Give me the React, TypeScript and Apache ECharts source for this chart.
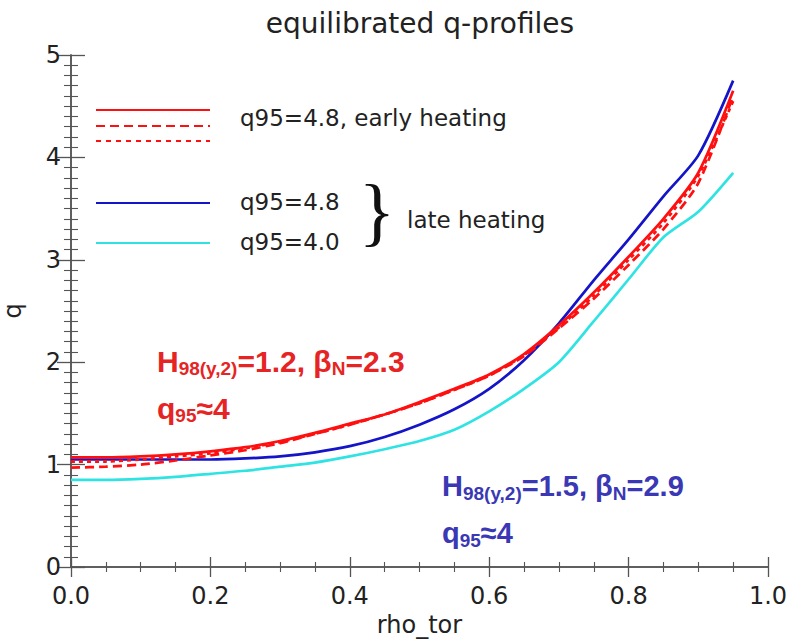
import React, { useEffect, useRef } from 'react';
import * as echarts from 'echarts';

const rho = [0, 0.05, 0.1, 0.15, 0.2, 0.25, 0.3, 0.35, 0.4, 0.45, 0.5, 0.55, 0.6, 0.65, 0.7, 0.75, 0.8, 0.85, 0.9, 0.95];
const earlySolid = [1.07, 1.07, 1.08, 1.10, 1.13, 1.17, 1.23, 1.31, 1.40, 1.49, 1.61, 1.74, 1.88, 2.08, 2.36, 2.68, 3.03, 3.40, 3.85, 4.65];
const earlyDashed = [0.97, 0.98, 1.00, 1.04, 1.09, 1.14, 1.21, 1.30, 1.39, 1.49, 1.60, 1.73, 1.87, 2.06, 2.33, 2.62, 2.95, 3.30, 3.75, 4.60];
const earlyDotted = [1.03, 1.03, 1.05, 1.08, 1.11, 1.16, 1.22, 1.30, 1.39, 1.49, 1.60, 1.73, 1.87, 2.07, 2.34, 2.65, 3.00, 3.36, 3.82, 4.55];
const lateQ48 = [1.05, 1.05, 1.05, 1.05, 1.05, 1.06, 1.08, 1.12, 1.18, 1.27, 1.39, 1.54, 1.74, 2.02, 2.38, 2.80, 3.20, 3.62, 4.02, 4.75];
const lateQ40 = [0.85, 0.85, 0.86, 0.88, 0.91, 0.94, 0.98, 1.02, 1.08, 1.15, 1.23, 1.34, 1.52, 1.74, 2.00, 2.40, 2.81, 3.22, 3.47, 3.85];

const titleText = 'equilibrated q-profiles';
const xName = 'rho_tor';
const yName = 'q';
const legendEarly = 'q95=4.8, early heating';
const legendLate1 = 'q95=4.8';
const legendLate2 = 'q95=4.0';
const lateLabel = 'late heating';

const RED = '#ff0f0f';
const BLUE = '#1414c8';
const CYAN = '#30e3e3';
const ANN_RED = '#e62424';
const ANN_BLUE = '#3a38b4';
const AXIS = '#555555';
const TXT = '#222222';

const pairs = (ys: number[]) => rho.map((x, i) => [x, ys[i]]);

function annotation(x: number, y: number, color: string, h: string, b: string, size: number) {
  const rich = {
    m: { fontSize: size, fontWeight: 'bold', fontFamily: 'Liberation Sans', fill: color, lineHeight: 34, verticalAlign: 'middle' },
    s: { fontSize: 19, fontWeight: 'bold', fontFamily: 'Liberation Sans', fill: color, lineHeight: 18, verticalAlign: 'bottom' },
  };
  return [
    {
      type: 'text', x, y: y,
      style: { text: `{m|H}{s|98(y,2)}{m|=${h}, β}{s|N}{m|=${b}}`, rich, verticalAlign: 'middle', align: 'left' },
    },
    {
      type: 'text', x, y: y + 47,
      style: { text: '{m|q}{s|95}{m|≈4}', rich, verticalAlign: 'middle', align: 'left' },
    },
  ];
}

export default function App() {
  const ref = useRef<HTMLDivElement>(null);
  useEffect(() => {
    if (!ref.current) return;
    const chart = echarts.init(ref.current, null, { renderer: 'svg' });
    const axisLine = { show: true, lineStyle: { color: AXIS, width: 1.5 } };
    const xTick = { show: true, inside: true, length: 10, lineStyle: { color: AXIS, width: 1.3 } };
    const xMinor = { show: true, splitNumber: 4, length: 5, lineStyle: { color: AXIS, width: 1.1 } };
    const yTick = { show: true, inside: true, length: 14, lineStyle: { color: AXIS, width: 1.3 } };
    const yMinor = { show: true, splitNumber: 10, length: 7, lineStyle: { color: AXIS, width: 1.1 } };
    const labelFont = { fontFamily: 'DejaVu Sans', fontSize: 24, color: TXT };
    const lineSeries = (name: string, ys: number[], color: string, type: any) => ({
      name, type: 'line', data: pairs(ys), showSymbol: false, symbol: 'none', smooth: 0.25,
      lineStyle: { color, width: 2.7, type }, xAxisIndex: 0, yAxisIndex: 0, z: 3,
    });
    chart.setOption({
      animation: false,
      backgroundColor: '#ffffff',
      grid: { left: 71, right: 27, top: 55, bottom: 76, containLabel: false, outerBoundsMode: 'none' },
      xAxis: [
        {
          type: 'value', min: 0, max: 1, interval: 0.2, position: 'bottom',
          axisLine, axisTick: xTick, minorTick: xMinor, splitLine: { show: false }, minorSplitLine: { show: false },
          axisLabel: { ...labelFont, margin: 17, formatter: (v: number) => v.toFixed(1) },
          name: xName, nameLocation: 'middle', nameGap: 45,
          nameTextStyle: { fontFamily: 'DejaVu Sans', fontSize: 24, color: TXT },
        },
        {
          type: 'value', min: 0, max: 1, interval: 0.2, position: 'top',
          axisLine, axisTick: xTick, minorTick: xMinor, splitLine: { show: false },
          axisLabel: { show: false },
        },
      ],
      yAxis: [
        {
          type: 'value', min: 0, max: 5, interval: 1, position: 'left',
          axisLine, axisTick: yTick, minorTick: yMinor, splitLine: { show: false }, minorSplitLine: { show: false },
          axisLabel: { ...labelFont, margin: 10 },
          name: yName, nameLocation: 'middle', nameGap: 46, nameRotate: 90,
          nameTextStyle: { fontFamily: 'DejaVu Sans', fontSize: 24, color: TXT },
        },
        {
          type: 'value', min: 0, max: 5, interval: 1, position: 'right',
          axisLine, axisTick: yTick, minorTick: yMinor, splitLine: { show: false },
          axisLabel: { show: false },
        },
      ],
      series: [
        lineSeries('late q95=4.0', lateQ40, CYAN, 'solid'),
        lineSeries('late q95=4.8', lateQ48, BLUE, 'solid'),
        lineSeries('early dotted', earlyDotted, RED, [4, 4]),
        lineSeries('early dashed', earlyDashed, RED, [9, 5]),
        lineSeries('early solid', earlySolid, RED, 'solid'),
      ],
      graphic: [
        {
          type: 'text', x: 420, y: 23,
          style: { text: titleText, align: 'center', verticalAlign: 'middle', font: '28px "DejaVu Sans"', fill: TXT },
        },
        { type: 'line', shape: { x1: 96, y1: 110, x2: 210, y2: 110 }, style: { stroke: RED, lineWidth: 2 } },
        { type: 'line', shape: { x1: 96, y1: 126, x2: 210, y2: 126 }, style: { stroke: RED, lineWidth: 2, lineDash: [9, 5] } },
        { type: 'line', shape: { x1: 96, y1: 141, x2: 210, y2: 141 }, style: { stroke: RED, lineWidth: 2, lineDash: [5, 5] } },
        { type: 'line', shape: { x1: 96, y1: 203, x2: 210, y2: 203 }, style: { stroke: BLUE, lineWidth: 2 } },
        { type: 'line', shape: { x1: 96, y1: 243, x2: 210, y2: 243 }, style: { stroke: CYAN, lineWidth: 2 } },
        {
          type: 'text', x: 240, y: 118,
          style: { text: legendEarly, align: 'left', verticalAlign: 'middle', font: '23px "DejaVu Sans"', fill: TXT },
        },
        {
          type: 'text', x: 240, y: 202,
          style: { text: legendLate1, align: 'left', verticalAlign: 'middle', font: '23px "DejaVu Sans"', fill: TXT },
        },
        {
          type: 'text', x: 240, y: 242,
          style: { text: legendLate2, align: 'left', verticalAlign: 'middle', font: '23px "DejaVu Sans"', fill: TXT },
        },
        {
          type: 'text', x: 377, y: 211,
          style: { text: '}', align: 'center', verticalAlign: 'middle', font: '76px "Liberation Serif"', fill: '#111' },
        },
        {
          type: 'text', x: 407, y: 220,
          style: { text: lateLabel, align: 'left', verticalAlign: 'middle', font: '23px "DejaVu Sans"', fill: TXT },
        },
        ...annotation(157, 361, ANN_RED, '1.2', '2.3', 30),
        ...annotation(442, 486, ANN_BLUE, '1.5', '2.9', 29),
      ],
    });
    return () => chart.dispose();
  }, []);
  return <div ref={ref} style={{ position: 'fixed', left: 0, top: 0, width: 795, height: 643 }} />;
}
